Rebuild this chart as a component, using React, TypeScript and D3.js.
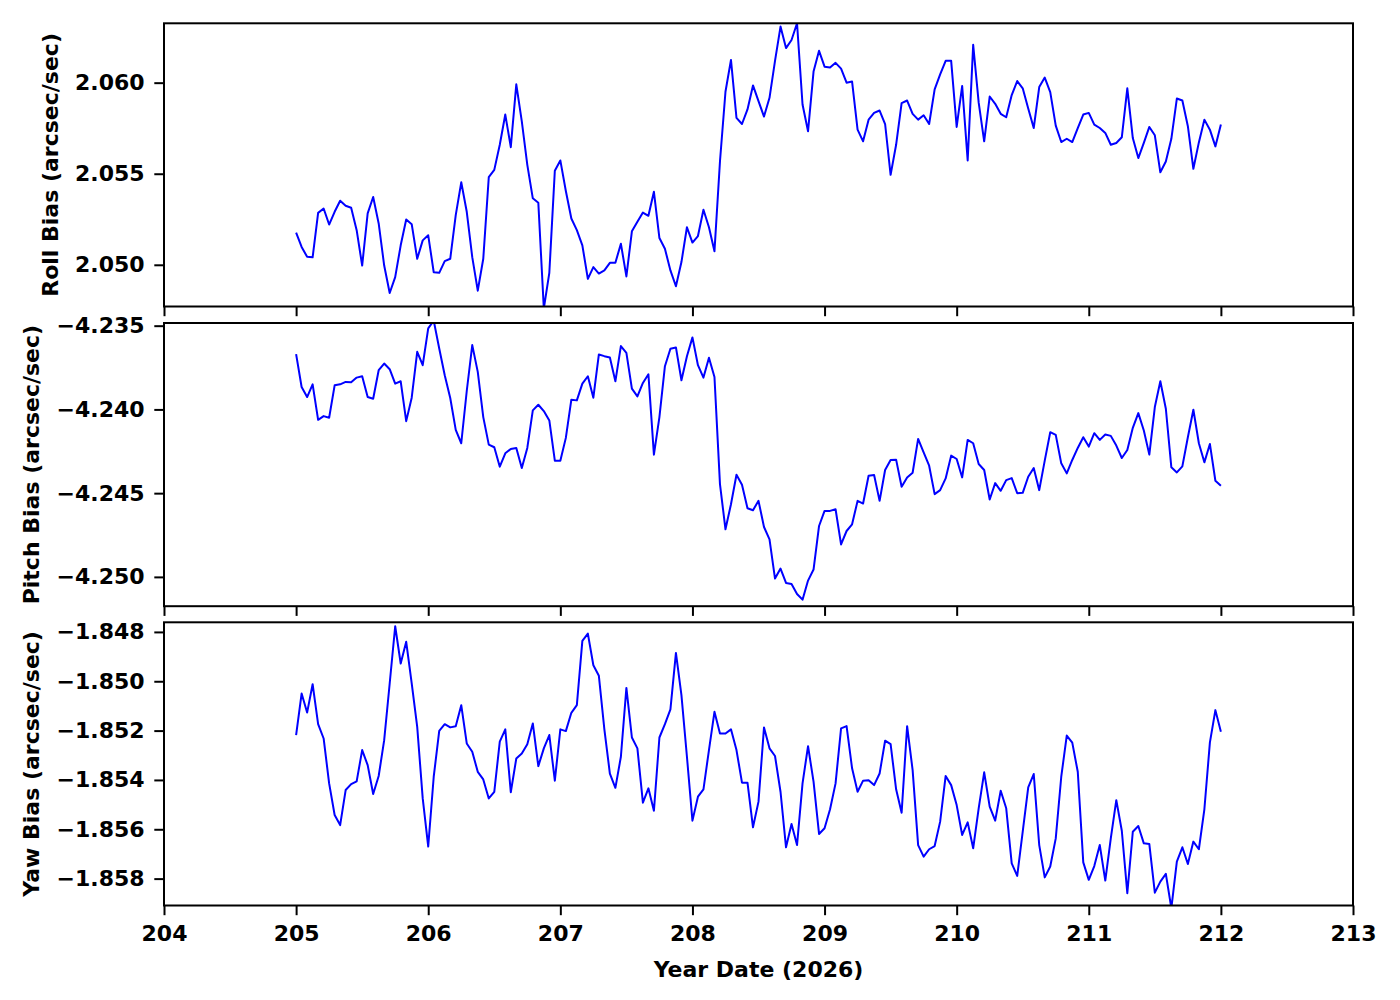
import React, { useEffect, useRef } from 'react';
import * as d3 from 'd3';

// hourly samples, day 205.0 .. 212.0
const START_DAY = 205;
const SAMPLES_PER_DAY = 24;

const roll = [
    2.05177, 2.05098, 2.05044, 2.05041, 2.05285, 2.05309, 2.05221, 2.05291, 2.05352, 2.05324,
    2.05313, 2.0519, 2.04996, 2.05282, 2.05372, 2.05227, 2.04996, 2.04845, 2.04932, 2.05107,
    2.05249, 2.05223, 2.05033, 2.05134, 2.05162, 2.04959, 2.04956, 2.0502, 2.05033, 2.05273,
    2.05453, 2.05291, 2.05042, 2.04858, 2.05033, 2.05481, 2.05521, 2.05659, 2.05825, 2.05646,
    2.05991, 2.05788, 2.05549, 2.05365, 2.05341, 2.0476, 2.04956, 2.05516, 2.05573, 2.05405,
    2.05254, 2.0519, 2.05107, 2.04923, 2.04987, 2.04952, 2.04969, 2.05011, 2.05011, 2.05116,
    2.04936, 2.05184, 2.05236, 2.05287, 2.05269, 2.05401, 2.05147, 2.05088, 2.04969, 2.04882,
    2.05015, 2.05206, 2.05122, 2.05158, 2.05302, 2.05206, 2.05074, 2.05567, 2.0595, 2.06125,
    2.05807, 2.05773, 2.05853, 2.05985, 2.05899, 2.05814, 2.05917, 2.0612, 2.06308, 2.0619,
    2.06234, 2.06326, 2.0588, 2.05733, 2.06061, 2.06175, 2.06088, 2.06083, 2.06109, 2.06077,
    2.06, 2.06006, 2.05742, 2.05678, 2.05797, 2.05834, 2.05847, 2.05773, 2.05494, 2.05659,
    2.05888, 2.05902, 2.05829, 2.05797, 2.05821, 2.05773, 2.05963, 2.06046, 2.0612, 2.0612,
    2.05757, 2.05982, 2.05573, 2.06208, 2.0589, 2.05678, 2.05924, 2.05884, 2.05829, 2.0581,
    2.05932, 2.06009, 2.05969, 2.05858, 2.05751, 2.05976, 2.06028, 2.05948, 2.05764, 2.05674,
    2.05692, 2.05674, 2.05751, 2.05825, 2.05834, 2.0577, 2.05751, 2.05724, 2.05659, 2.05669,
    2.057, 2.05969, 2.05696, 2.05586, 2.05669, 2.05757, 2.05711, 2.05508, 2.05567, 2.05692,
    2.05913, 2.05902, 2.05761, 2.05527, 2.05672, 2.05797, 2.05742, 2.0565, 2.0577,
];

const pitch = [
    -4.2367, -4.23866, -4.23926, -4.2385, -4.24062, -4.2404, -4.2405, -4.23856, -4.2385, -4.23836,
    -4.23838, -4.2381, -4.23802, -4.23926, -4.23936, -4.23766, -4.23726, -4.2376, -4.23846, -4.23832,
    -4.2407, -4.2393, -4.23656, -4.23736, -4.23516, -4.2347, -4.23636, -4.23796, -4.23932, -4.24122,
    -4.24202, -4.2389, -4.23616, -4.23776, -4.24046, -4.2421, -4.24226, -4.24342, -4.24262, -4.24236,
    -4.2423, -4.2435, -4.2423, -4.24006, -4.23972, -4.2401, -4.24066, -4.24306, -4.24306, -4.2417,
    -4.23942, -4.23946, -4.23846, -4.23802, -4.2393, -4.23672, -4.23682, -4.2369, -4.23832, -4.23622,
    -4.23662, -4.23876, -4.23922, -4.23842, -4.2379, -4.2427, -4.24046, -4.23742, -4.23638, -4.2363,
    -4.23826, -4.23682, -4.2357, -4.23736, -4.2381, -4.23692, -4.23806, -4.24446, -4.24716, -4.24566,
    -4.2439, -4.2445, -4.2459, -4.24602, -4.24546, -4.24702, -4.24776, -4.2501, -4.2495, -4.25036,
    -4.25042, -4.25102, -4.25136, -4.25022, -4.24956, -4.24696, -4.24606, -4.24606, -4.24596, -4.24806,
    -4.24726, -4.24686, -4.24546, -4.24562, -4.24396, -4.24392, -4.24546, -4.24362, -4.24302, -4.243,
    -4.24462, -4.24406, -4.24378, -4.24176, -4.24256, -4.24336, -4.24506, -4.24482, -4.24412, -4.24276,
    -4.24296, -4.24406, -4.24182, -4.24202, -4.24326, -4.24362, -4.24538, -4.2444, -4.24486, -4.24422,
    -4.2441, -4.245, -4.24498, -4.24402, -4.2435, -4.24482, -4.24306, -4.24136, -4.24152, -4.24322,
    -4.24382, -4.24302, -4.2423, -4.24166, -4.24222, -4.24142, -4.24182, -4.2415, -4.24158, -4.24216,
    -4.2429, -4.24242, -4.2411, -4.24022, -4.24126, -4.2427, -4.23986, -4.23832, -4.23996, -4.24346,
    -4.24376, -4.2434, -4.24166, -4.24002, -4.24202, -4.24316, -4.24206, -4.24426, -4.24456,
];

const yaw = [
    -1.85218, -1.8505, -1.85127, -1.85012, -1.85174, -1.85232, -1.85414, -1.85542, -1.85583, -1.85441,
    -1.85417, -1.85406, -1.85279, -1.8534, -1.85457, -1.85384, -1.85239, -1.85009, -1.84777, -1.84928,
    -1.8484, -1.85009, -1.85185, -1.85475, -1.8567, -1.85387, -1.85201, -1.85174, -1.85187, -1.85182,
    -1.85097, -1.85252, -1.85286, -1.85367, -1.85398, -1.85475, -1.85448, -1.85245, -1.85195, -1.8545,
    -1.85313, -1.85293, -1.85255, -1.85171, -1.85344, -1.85272, -1.85218, -1.85403, -1.85195, -1.85202,
    -1.85128, -1.85097, -1.84836, -1.84807, -1.84935, -1.84978, -1.85195, -1.85374, -1.85432, -1.85306,
    -1.85027, -1.85228, -1.85272, -1.85492, -1.85434, -1.85525, -1.85228, -1.85174, -1.85114, -1.84885,
    -1.85056, -1.85306, -1.85565, -1.85468, -1.85438, -1.85279, -1.85124, -1.85212, -1.85212, -1.85195,
    -1.85279, -1.85411, -1.85411, -1.85592, -1.85488, -1.85187, -1.85272, -1.85303, -1.85448, -1.85673,
    -1.85579, -1.85664, -1.85414, -1.85263, -1.85407, -1.85619, -1.85596, -1.85519, -1.85414, -1.85191,
    -1.85182, -1.85353, -1.85448, -1.85403, -1.85401, -1.85421, -1.85374, -1.85241, -1.85255, -1.85438,
    -1.85533, -1.85182, -1.8536, -1.85664, -1.85711, -1.85681, -1.85668, -1.85569, -1.85384, -1.85421,
    -1.85502, -1.85623, -1.85572, -1.85677, -1.85515, -1.85369, -1.85508, -1.85565, -1.85444, -1.85515,
    -1.85738, -1.85789, -1.8561, -1.8543, -1.85376, -1.85664, -1.85795, -1.85751, -1.85637, -1.85387,
    -1.8522, -1.85249, -1.85367, -1.85734, -1.85805, -1.85749, -1.85664, -1.85808, -1.85637, -1.85482,
    -1.85606, -1.85859, -1.8561, -1.85587, -1.85657, -1.8566, -1.85857, -1.85812, -1.85781, -1.8592,
    -1.85731, -1.85673, -1.85741, -1.8565, -1.85681, -1.85519, -1.85249, -1.85117, -1.85205,
];

const xTicks = [204, 205, 206, 207, 208, 209, 210, 211, 212, 213];
const rollTicks = [2.05, 2.055, 2.06];
const pitchTicks = [-4.25, -4.245, -4.24, -4.235];
const yawTicks = [-1.858, -1.856, -1.854, -1.852, -1.85, -1.848];

const xDomain = [204, 213];
const rollDomain = [2.04771, 2.06326];
const pitchDomain = [-4.25175, -4.23484];
const yawDomain = [-1.85909, -1.84761];

const panels = [
    { label: 'Roll Bias (arcsec/sec)', values: roll, ticks: rollTicks, domain: rollDomain, labelX: 58 },
    { label: 'Pitch Bias (arcsec/sec)', values: pitch, ticks: pitchTicks, domain: pitchDomain, labelX: 39 },
    { label: 'Yaw Bias (arcsec/sec)', values: yaw, ticks: yawTicks, domain: yawDomain, labelX: 39 },
];

const W = 1400;
const H = 1000;
const LEFT = 164;
const RIGHT = 1353;
const TOPS = [23.3, 323, 622.3];
const PANEL_H = 283.2;
const TICK = 9.7;
const FONT = "'DejaVu Sans', sans-serif";
const FS = 22;

const App: React.FC = () => {
    const ref = useRef<SVGSVGElement>(null);

    useEffect(() => {
        const svg = d3.select(ref.current);
        svg.selectAll('*').remove();

        const x = d3.scaleLinear().domain(xDomain).range([LEFT, RIGHT]);
        const fmt = d3.format('.3f');

        panels.forEach((p, k) => {
            const top = TOPS[k];
            const bottom = top + PANEL_H;
            const y = d3.scaleLinear().domain(p.domain).range([bottom, top]);

            const clipId = `clip-${k}`;
            svg.append('clipPath').attr('id', clipId)
                .append('rect')
                .attr('x', LEFT).attr('y', top)
                .attr('width', RIGHT - LEFT).attr('height', PANEL_H);

            const line = d3.line<number>()
                .x((_, i) => x(START_DAY + i / SAMPLES_PER_DAY))
                .y((d) => y(d));

            svg.append('path')
                .datum(p.values)
                .attr('clip-path', `url(#${clipId})`)
                .attr('fill', 'none')
                .attr('stroke', '#0000ff')
                .attr('stroke-width', 2)
                .attr('stroke-linejoin', 'round')
                .attr('d', line);

            // y axis
            const gy = svg.append('g')
                .attr('transform', `translate(${LEFT},0)`)
                .call(d3.axisLeft(y).tickValues(p.ticks).tickFormat((d) => fmt(d as number))
                    .tickSize(TICK).tickPadding(TICK));
            gy.select('.domain').remove();

            // x axis (labels only on the bottom panel)
            const gx = svg.append('g')
                .attr('transform', `translate(0,${bottom})`)
                .call(d3.axisBottom(x).tickValues(xTicks).tickFormat((d) => k === 2 ? String(d) : '')
                    .tickSize(TICK).tickPadding(TICK));
            gx.select('.domain').remove();

            [gy, gx].forEach((g) => {
                g.attr('font-family', FONT).attr('font-size', FS).attr('font-weight', 'bold');
                g.selectAll('line').attr('stroke', '#000').attr('stroke-width', 2);
                g.selectAll('text').attr('fill', '#000');
            });

            svg.append('rect')
                .attr('x', LEFT).attr('y', top)
                .attr('width', RIGHT - LEFT).attr('height', PANEL_H)
                .attr('fill', 'none')
                .attr('stroke', '#000')
                .attr('stroke-width', 2);

            svg.append('text')
                .attr('transform', `translate(${p.labelX},${(top + bottom) / 2}) rotate(-90)`)
                .attr('text-anchor', 'middle')
                .attr('font-family', FONT)
                .attr('font-size', FS)
                .attr('font-weight', 'bold')
                .text(p.label);
        });

        svg.append('text')
            .attr('x', (LEFT + RIGHT) / 2)
            .attr('y', 977)
            .attr('text-anchor', 'middle')
            .attr('font-family', FONT)
            .attr('font-size', FS)
            .attr('font-weight', 'bold')
            .text('Year Date (2026)');
    }, []);

    return (
        <svg ref={ref} width={W} height={H}
            style={{ position: 'absolute', left: 0, top: 0, background: '#fff' }} />
    );
};

export default App;
